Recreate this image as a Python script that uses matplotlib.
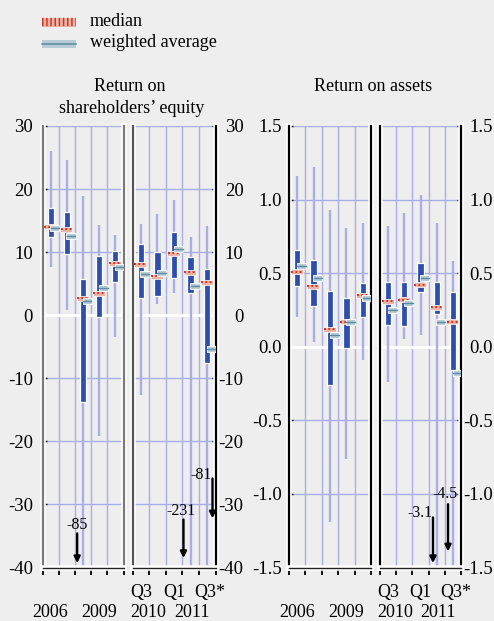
import numpy as np
import matplotlib
matplotlib.use("Agg")
import matplotlib.pyplot as plt
from matplotlib.patches import Rectangle
from matplotlib.lines import Line2D
import matplotlib.patheffects as pe

plt.rcParams["font.family"] = ["Liberation Serif", "DejaVu Serif"]

# ---------------- data ----------------
annual_labels = ["2006", "2007", "2008", "2009", "2010"]
quarter_labels = ["Q3 2010", "Q4 2010", "Q1 2011", "Q2 2011", "Q3 2011*"]

# Return on shareholders' equity (%)
roe_y_min = [7.6, 0.8, -85, -19.2, -3.5]
roe_y_p25 = [12.4, 9.7, -13.7, -0.3, 5.2]
roe_y_p75 = [17.0, 16.3, 5.7, 9.4, 10.2]
roe_y_max = [26.0, 24.6, 18.9, 14.3, 12.7]
roe_y_median = [14.0, 13.6, 2.7, 3.5, 8.2]
roe_y_wavg = [13.8, 12.5, 2.2, 4.3, 7.6]

roe_q_min = [-12.6, 1.7, 3.6, -231, -81]
roe_q_p25 = [2.7, 3.0, 5.9, 3.6, -7.6]
roe_q_p75 = [11.3, 10.0, 13.2, 9.2, 7.3]
roe_q_max = [14.4, 16.0, 18.3, 12.4, 14.1]
roe_q_median = [8.1, 6.2, 9.8, 6.8, 5.2]
roe_q_wavg = [6.5, 6.7, 10.5, 4.6, -5.4]

# Return on assets (%)
roa_y_min = [0.20, 0.03, -1.19, -0.76, -0.09]
roa_y_p25 = [0.41, 0.28, -0.26, -0.01, 0.20]
roa_y_p75 = [0.66, 0.59, 0.38, 0.33, 0.43]
roa_y_max = [1.16, 1.22, 0.93, 0.81, 0.84]
roa_y_median = [0.51, 0.41, 0.12, 0.17, 0.35]
roa_y_wavg = [0.55, 0.47, 0.08, 0.17, 0.33]

roa_q_min = [-0.24, 0.05, 0.08, -3.1, -4.5]
roa_q_p25 = [0.15, 0.14, 0.37, 0.22, -0.16]
roa_q_p75 = [0.44, 0.44, 0.57, 0.44, 0.37]
roa_q_max = [0.82, 0.91, 1.03, 0.84, 0.58]
roa_q_median = [0.31, 0.32, 0.42, 0.27, 0.17]
roa_q_wavg = [0.25, 0.30, 0.47, 0.17, -0.18]

roe_ticks = [-40, -30, -20, -10, 0, 10, 20, 30]
roa_ticks = [-1.5, -1.0, -0.5, 0.0, 0.5, 1.0, 1.5]

# ---------------- style ----------------
W, H = 494, 621
BG = "#eeeeee"
BLUE = "#2e4eae"
LILAC = "#a9aee6"
SALMON = "#eeb3a2"
RED = "#c8352a"
STEEL = "#b8ccd6"
TEAL = "#5a8a9b"
FS = 13

fig = plt.figure(figsize=(W / 100, H / 100), dpi=100, facecolor=BG)

TOP, BOT = 126, 567.5


def px_axes(x0, x1):
    ax = fig.add_axes([x0 / W, 1 - BOT / H, (x1 - x0) / W, (BOT - TOP) / H])
    ax.set_facecolor("none")
    return ax


def draw_group(ax, lo, p25, p75, hi, med, wavg, ylim, ticks, spine_cols):
    n = len(lo)
    x = np.arange(n)
    upp = (ylim[1] - ylim[0]) / (BOT - TOP)  # data units per pixel
    ax.set_xlim(-0.5, n - 0.5)
    ax.set_ylim(*ylim)
    ax.set_yticks(ticks)
    ax.set_xticks(np.arange(-0.5, n, 1.0))
    ax.set_xticklabels([])
    ax.grid(axis="y", color=LILAC, lw=1.0, zorder=0)
    ax.set_axisbelow(True)
    for xb in np.arange(0.5, n - 0.5, 1.0):
        ax.axvline(xb, color=LILAC, lw=1.0, zorder=0.5)
    ax.axhline(0, color="white", lw=2.2, zorder=1)

    # whiskers (min..max, clipped by the axes)
    ax.vlines(x, lo, hi, color=LILAC, lw=1.7, zorder=2)
    # inter-quartile boxes
    for xi, a, b in zip(x, p25, p75):
        ax.add_patch(Rectangle((xi - 0.19, a), 0.38, b - a, facecolor=BLUE,
                               edgecolor="white", lw=0.9, zorder=3))
    # medians
    for xi, m in zip(x, med):
        h = 5.0 * upp
        ax.add_patch(Rectangle((xi - 0.40, m - h / 2), 0.74, h, facecolor=SALMON,
                               edgecolor="white", lw=0.5, zorder=4))
        ax.add_line(Line2D([xi - 0.38, xi + 0.32], [m, m], color=RED, lw=1.4,
                           dashes=(1.0, 1.2), solid_capstyle="butt", zorder=5))
    # weighted averages
    for xi, w in zip(x, wavg):
        h = 6.0 * upp
        ax.add_patch(Rectangle((xi - 0.02, w - h / 2), 0.56, h, facecolor=STEEL,
                               edgecolor="white", lw=0.6, zorder=6))
        ax.add_line(Line2D([xi - 0.0, xi + 0.52], [w, w], color=TEAL, lw=1.0, zorder=7))

    ax.spines["top"].set_visible(False)
    ax.spines["left"].set_color(spine_cols[0])
    ax.spines["right"].set_color(spine_cols[1])
    ax.spines["bottom"].set_color("#222222")
    for s in ("left", "right", "bottom"):
        ax.spines[s].set_linewidth(1.6 if s != "bottom" else 1.0)
        ax.spines[s].set_path_effects([pe.Stroke(linewidth=4, foreground="white"), pe.Normal()])
    ax.tick_params(axis="x", direction="out", length=5, width=1.3, color="black")


def fmt(v, dec):
    return f"{v:.{dec}f}".replace("\u2212", "-")


def outer_labels(ax, ticks, dec, side, pad_px):
    labels = [fmt(t, dec) for t in ticks]
    ax.set_yticklabels(labels, fontsize=13.5)
    if side == "left":
        ax.tick_params(axis="y", which="both", left=True, right=False, labelleft=True,
                       labelright=False, direction="in", length=3, width=1, pad=pad_px * 0.72)
    else:
        ax.tick_params(axis="y", which="both", left=False, right=True, labelleft=False,
                       labelright=True, direction="in", length=3, width=1, pad=pad_px * 0.72)
        for lab in ax.get_yticklabels():
            lab.set_horizontalalignment("right")


def inner(ax):
    ax.tick_params(axis="y", left=False, right=False, labelleft=False, labelright=False)


def bottom_text(ax, x, ypx, s):
    yfrac = (BOT - ypx) / (BOT - TOP)
    ax.text(x, yfrac, s, transform=ax.get_xaxis_transform(), ha="center",
            va="baseline", fontsize=FS, clip_on=False)


def arrow(ax, x, tail, tip, label, lx, ly, ha="center"):
    ax.annotate("", xy=(x, tip), xytext=(x, tail),
                arrowprops=dict(arrowstyle="-|>", color="black", lw=1.7,
                                mutation_scale=9, shrinkA=0, shrinkB=0), zorder=8)
    ax.text(lx, ly, label, ha=ha, va="center", fontsize=11.5, zorder=8)


# ---------------- Return on shareholders' equity ----------------
roe_lim = (-40, 30)
ax1 = px_axes(42.5, 123.5)
draw_group(ax1, roe_y_min, roe_y_p25, roe_y_p75, roe_y_max, roe_y_median, roe_y_wavg,
           roe_lim, roe_ticks, ("#7a7a7a", "#7a7a7a"))
outer_labels(ax1, roe_ticks, 0, "left", 9.5)

ax2 = px_axes(132.5, 215.5)
draw_group(ax2, roe_q_min, roe_q_p25, roe_q_p75, roe_q_max, roe_q_median, roe_q_wavg,
           roe_lim, roe_ticks, ("#555555", "black"))
outer_labels(ax2, roe_ticks, 0, "right", 28)

# ---------------- Return on assets ----------------
roa_lim = (-1.5, 1.5)
ax3 = px_axes(289, 371)
draw_group(ax3, roa_y_min, roa_y_p25, roa_y_p75, roa_y_max, roa_y_median, roa_y_wavg,
           roa_lim, roa_ticks, ("black", "black"))
outer_labels(ax3, roa_ticks, 1, "left", 7)

ax4 = px_axes(380, 461)
draw_group(ax4, roa_q_min, roa_q_p25, roa_q_p75, roa_q_max, roa_q_median, roa_q_wavg,
           roa_lim, roa_ticks, ("black", "black"))
outer_labels(ax4, roa_ticks, 1, "right", 32)

# off-scale minima
arrow(ax1, 1.64, -34.6, -39.3, fmt(roe_y_min[2], 0), 1.64, -33.3)
arrow(ax2, 2.57, -32.4, -38.5, fmt(roe_q_min[3], 0), 2.45, -31.0)
arrow(ax2, 4.32, -25.9, -32.2, fmt(roe_q_min[4], 0), 4.25, -25.4, ha="right")
arrow(ax4, 2.77, -1.16, -1.47, fmt(roa_q_min[3], 1), 2.72, -1.13, ha="right")
arrow(ax4, 3.70, -1.07, -1.39, fmt(roa_q_min[4], 1), 3.51, -1.00)

# category labels
for ax in (ax1, ax3):
    bottom_text(ax, 0, 617, annual_labels[0])
    bottom_text(ax, 3, 617, annual_labels[3])
for ax in (ax2, ax4):
    bottom_text(ax, 0, 597, quarter_labels[0].split()[0])
    bottom_text(ax, 2, 597, quarter_labels[2].split()[0])
    bottom_text(ax, 4.15, 597, quarter_labels[4].split()[0].replace("*", "") + "*")
    bottom_text(ax, 0.45, 617, quarter_labels[0].split()[1])
    bottom_text(ax, 3.1, 617, quarter_labels[2].split()[1])

# titles
def ftext(x, y, s, **kw):
    fig.text(x / W, 1 - y / H, s, fontsize=FS, va="baseline", **kw)

ftext(130, 91, "Return on", ha="center")
ftext(132, 113, "shareholders\u2019 equity", ha="center")
ftext(373, 91, "Return on assets", ha="center")

# legend
fig.add_artist(Rectangle((42 / W, 1 - 26.5 / H), 34 / W, 8.5 / H, transform=fig.transFigure,
                         facecolor=SALMON, edgecolor="none"))
fig.add_artist(Line2D([42 / W, 76 / W], [1 - 22.2 / H] * 2, transform=fig.transFigure,
                      color=RED, lw=6.0, dashes=(0.18, 0.32), solid_capstyle="butt"))
fig.add_artist(Rectangle((42 / W, 1 - 47.5 / H), 34 / W, 8 / H, transform=fig.transFigure,
                         facecolor=STEEL, edgecolor="none"))
fig.add_artist(Line2D([42 / W, 76 / W], [1 - 43.5 / H] * 2, transform=fig.transFigure,
                      color=TEAL, lw=1.1))
ftext(90, 26, "median", ha="left")
ftext(90, 47, "weighted average", ha="left")

fig.savefig("out.png", dpi=100, facecolor=BG)
